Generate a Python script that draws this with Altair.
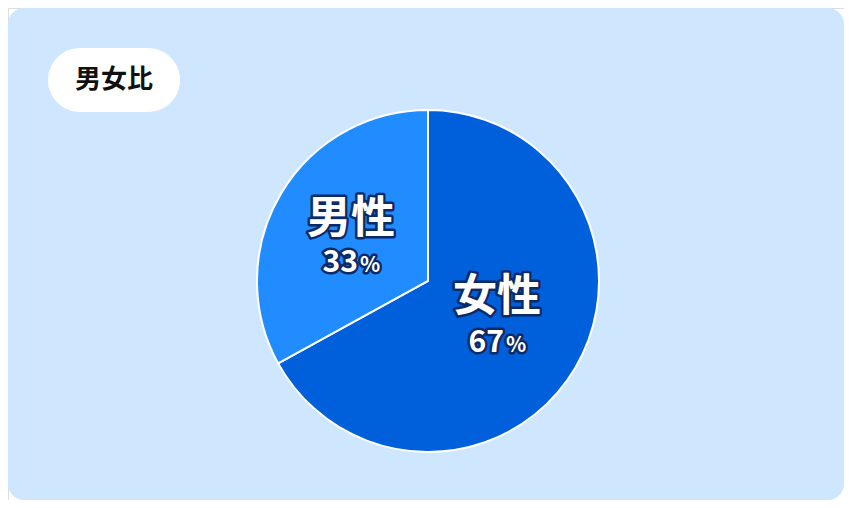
import altair as alt
import pandas as pd

categories = ["女性", "男性"]
values = [67, 33]
colors = ["#005fdb", "#218cff"]
title_text = "男女比"

df = pd.DataFrame({"category": categories, "value": values})
one = pd.DataFrame({"k": [0]})

FONT = "Noto Sans CJK JP"
OUTLINE = "#0c2a66"

W, H = 836, 492
CX, CY, R = 420, 273, 171

bg = alt.Chart(one).mark_rect(cornerRadius=16, color="#cfe6ff").encode(
    x=alt.value(0), x2=alt.value(W), y=alt.value(0), y2=alt.value(H)
)

pill = alt.Chart(one).mark_rect(cornerRadius=32, color="white").encode(
    x=alt.value(40), x2=alt.value(172), y=alt.value(40), y2=alt.value(104)
)

title = alt.Chart(one).mark_text(
    text=title_text, font=FONT, fontSize=26, fontWeight="bold", color="#111111",
    align="center", baseline="middle"
).encode(x=alt.value(106), y=alt.value(72))

pie = alt.Chart(df).mark_arc(radius=R, stroke="white", strokeWidth=2).encode(
    theta=alt.Theta("value:Q", stack=True),
    color=alt.Color("category:N", scale=alt.Scale(domain=categories, range=colors),
                    sort=categories, legend=None),
    order=alt.Order("value:Q", sort="descending"),
    x=alt.value(CX), y=alt.value(CY),
)

def label_layers(cat, nx, ny, px, pbase):
    base = alt.Chart(df).transform_filter(alt.datum.category == cat)
    layers = []
    for outline in (True, False):
        kw = dict(font=FONT, fontWeight="bold")
        if outline:
            kw.update(stroke=OUTLINE, strokeWidth=5, strokeJoin="round", color=OUTLINE)
        else:
            kw.update(color="white")
        name = base.mark_text(fontSize=44, align="center", baseline="middle", **kw).encode(
            text="category:N", x=alt.value(nx), y=alt.value(ny))
        num = base.mark_text(fontSize=30, align="right", baseline="alphabetic", **kw).encode(
            text=alt.Text("value:Q", format="d"), x=alt.value(px), y=alt.value(pbase))
        pct = base.mark_text(fontSize=21, align="left", baseline="alphabetic", text="%", **kw).encode(
            x=alt.value(px + 2), y=alt.value(pbase))
        layers += [name, num, pct]
    return layers

labels = label_layers("男性", 343, 212, 350, 264) + label_layers("女性", 489, 290, 496, 344)

chart = alt.layer(bg, pill, title, pie, *labels).properties(
    width=W, height=H, padding=0, autosize=alt.AutoSizeParams(type="none")
).configure_view(strokeWidth=0).configure(background="white")

chart.save("out.html", embed_options={"renderer": "svg", "actions": False})
